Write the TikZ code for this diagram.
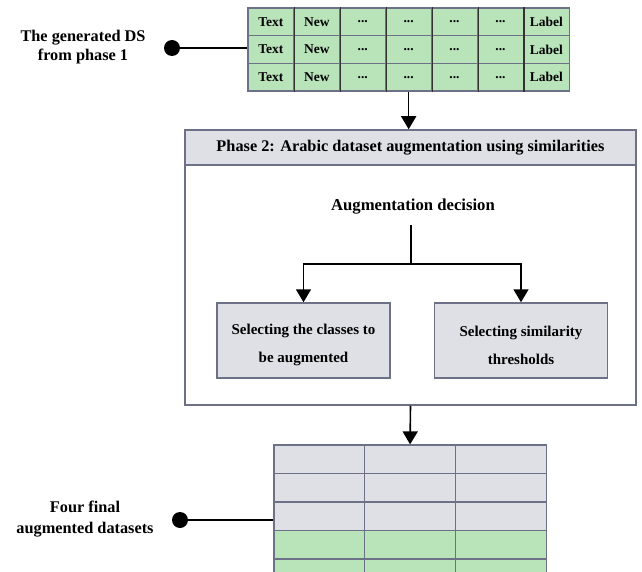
\documentclass[tikz,border=0pt]{standalone}
\usepackage{fontspec}
\setmainfont{Liberation Serif}
\usetikzlibrary{positioning,calc,arrows.meta}
\definecolor{dsgreen}{RGB}{185,228,186}
\definecolor{dsgrey}{RGB}{223,224,229}
\definecolor{dsedge}{RGB}{108,113,135}
\newcommand\dsdots{...}
\tikzset{
  >={Triangle[width=15pt,length=13pt]},
  my cell/.style={
    draw=dsedge,
    line width=1.2pt,
    minimum width=45.9pt,
    minimum height=27.7pt,
    inner sep=0pt,
    fill=dsgreen,
    font=\bfseries\fontsize{13.5}{15}\selectfont
  },
  my outcell/.style={
    draw=dsedge,
    line width=1.2pt,
    minimum width=90.7pt,
    minimum height=28.5pt,
    inner sep=0pt
  },
  my box/.style={
    draw=dsedge,
    line width=1.5pt,
    fill=dsgrey,
    minimum width=173pt,
    minimum height=75pt,
    align=center,
    font=\bfseries\fontsize{15}{28}\selectfont
  },
  my dot/.style={circle,fill=black,minimum size=16pt,inner sep=0pt},
  my link/.style={line width=1.6pt},
  my label/.style={align=center,font=\bfseries\fontsize{16.3}{19}\selectfont}
}

\begin{document}
\begin{tikzpicture}[x=1pt,y=-1pt]
\clip (0,0) rectangle (642,572);
\foreach \r in {1,2,3}{
  \foreach \c/\t in {1/Text,2/New,3/\dsdots,4/\dsdots,5/\dsdots,6/\dsdots,7/Label}
    \node (ds-\r-\c) [my cell] at ({248+45.9*(\c-0.5)},{8+27.7*(\r-0.5)}) {\t};
}
\foreach \c in {1,...,6}
  \draw[line width=1.2pt,black!80] (ds-1-\c.north east) -- (ds-3-\c.south east);
\node (dsdot) [my dot] at (172,48) {};
\node (dslabel) [my label] at (83,47) {The generated DS\\from phase 1};
\draw[my link] (dsdot) -- (dsdot -| ds-2-1.west);

\node (phase) [draw=dsedge,line width=1.5pt,minimum width=451pt,minimum height=275pt] at (410.5,267.5) {};
\node (phasehead) [draw=dsedge,line width=1.5pt,fill=dsgrey,minimum width=451pt,minimum height=35pt,
  font=\bfseries\fontsize{16.3}{18}\selectfont] at (410.5,147.5) {Phase 2: Arabic dataset augmentation using similarities};
\draw[my link,->] (ds-3-4.south) -- (ds-3-4.south |- phase.north);

\node (decision) [font=\bfseries\fontsize{16.7}{19}\selectfont] at (413,207) {Augmentation decision};
\coordinate (fork) at (411,264);
\draw[my link] ([yshift=-7pt]decision.south -| fork) -- (fork);
\node (selclass) [my box] at (303.5,340.5) {\rule{0pt}{20pt}Selecting the classes to\\be augmented};
\node (selthr) [my box] at (521,340.5) {\rule{0pt}{20pt}Selecting similarity\\thresholds};
\draw[my link,->] (fork) -| (selclass.north);
\draw[my link,->] (fork) -| (selthr.north);

\foreach \r in {1,2,3}
  \foreach \c in {1,2,3}
    \node (out-\r-\c) [my outcell,fill=dsgrey] at ({274+90.7*(\c-0.5)},{445+28.5*(\r-0.5)}) {};
\foreach \r in {4,5,6}
  \foreach \c in {1,2,3}
    \node (out-\r-\c) [my outcell,fill=dsgreen] at ({274+90.7*(\c-0.5)},{445+28.5*(\r-0.5)}) {};
\draw[my link,->] (phase.south) -- (out-1-2.north);
\node (outdot) [my dot] at (180,520) {};
\node (outlabel) [my label,font=\bfseries\fontsize{16.3}{21}\selectfont] at (85,519) {Four final\\augmented datasets};
\draw[my link] (outdot) -- (outdot -| out-3-1.west);
\end{tikzpicture}
\end{document}
